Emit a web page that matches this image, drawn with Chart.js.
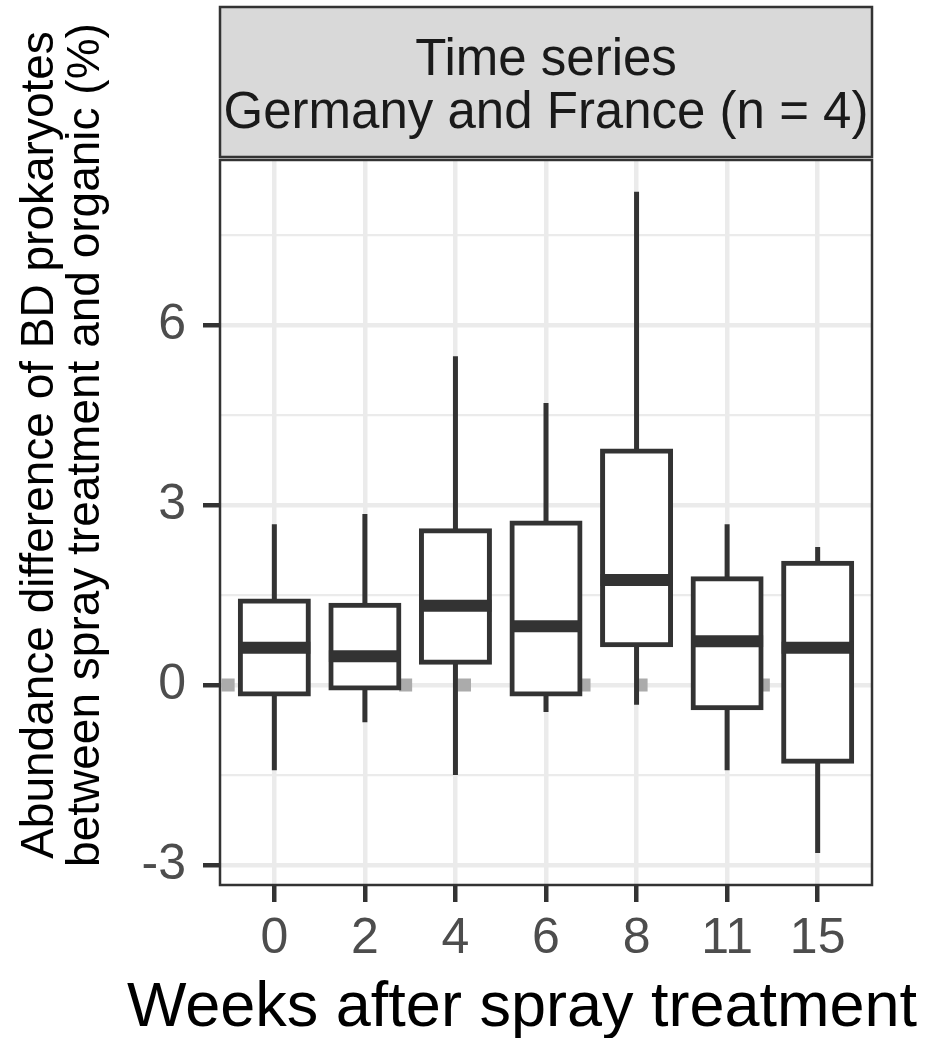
<!DOCTYPE html>
<html>
<head>
<meta charset="utf-8">
<script src="https://cdn.jsdelivr.net/npm/chart.js@4.4.1/dist/chart.umd.min.js"></script>
<style>
  html, body { margin: 0; padding: 0; background: #ffffff; }
  canvas { display: block; }
</style>
</head>
<body>
<canvas id="c" width="932" height="1038"></canvas>
<script>
// ---- data ----
const categories   = ['0', '2', '4', '6', '8', '11', '15'];
const whiskerLow   = [-1.42, -0.62, -1.50, -0.45, -0.33, -1.42, -2.80];
const q1           = [-0.15, -0.05,  0.38, -0.15,  0.67, -0.38, -1.27];
const medians      = [ 0.62,  0.48,  1.32,  0.98,  1.75,  0.73,  0.62];
const q3           = [ 1.40,  1.33,  2.57,  2.70,  3.90,  1.77,  2.03];
const whiskerHigh  = [ 2.68,  2.85,  5.48,  4.70,  8.22,  2.68,  2.30];
// grey points at zero (jittered positions, in category-index units)
const zeroPointX   = [-0.51, 1.45, 2.10, 3.42, 4.05, 5.40];
const zeroPointY   = [0, 0, 0, 0, 0, 0];
const yMajorTicks  = [-3, 0, 3, 6];
const yMinorTicks  = [-1.5, 1.5, 4.5, 7.5];
const stripLines   = ['Time series', 'Germany and France (n = 4)'];
const yTitleLines  = ['Abundance difference of BD prokaryotes', 'between spray treatment and organic (%)'];
const xTitleText   = 'Weeks after spray treatment';

const FONT = '"Liberation Sans", Arial, Helvetica, sans-serif';
const DARK = '#333333';
const GRID = '#ebebeb';
const PANEL_MAX = 8.75;   // top of the panel in data units
const AXIS_MIN = -3.333;
const STRIP_MAX = 11.333; // top of strip region (axis extent)
const X_TITLE_CENTER = 522;
const X_TITLE_BASELINE = 1026;

const idx = categories.map((_, i) => i);

const stripPlugin = {
  id: 'strip',
  beforeDraw(chart) {
    const c = chart.ctx;
    c.save();
    c.fillStyle = '#ffffff';
    c.fillRect(0, 0, chart.width, chart.height);
    c.restore();
  },
  beforeDatasetsDraw(chart) {
    const {ctx, chartArea} = chart;
    const ys = chart.scales.y;
    const panelTop = ys.getPixelForValue(PANEL_MAX);
    ctx.save();
    ctx.fillStyle = '#ffffff';
    ctx.fillRect(chartArea.left - 3, 0, chartArea.right - chartArea.left + 6, panelTop);
    const sTop = chartArea.top + 2, sBot = panelTop - 3;
    ctx.fillStyle = '#d9d9d9';
    ctx.fillRect(chartArea.left, sTop, chartArea.right - chartArea.left, sBot - sTop);
    ctx.lineWidth = 2.5;
    ctx.strokeStyle = DARK;
    ctx.strokeRect(chartArea.left, sTop, chartArea.right - chartArea.left, sBot - sTop);
    ctx.fillStyle = '#1a1a1a';
    ctx.font = '51px ' + FONT;
    ctx.textAlign = 'center';
    ctx.textBaseline = 'middle';
    const cx = (chartArea.left + chartArea.right) / 2;
    const mid = (sTop + sBot) / 2 + 5;
    const lh = 53;
    stripLines.forEach((t, i) => {
      ctx.fillText(t, cx, mid + (i - (stripLines.length - 1) / 2) * lh);
    });
    ctx.restore();
  },
  afterDatasetsDraw(chart) {
    const {ctx, chartArea} = chart;
    const ys = chart.scales.y;
    const panelTop = ys.getPixelForValue(PANEL_MAX);
    ctx.save();
    ctx.lineWidth = 2.5;
    ctx.strokeStyle = DARK;
    ctx.strokeRect(chartArea.left, panelTop, chartArea.right - chartArea.left, chartArea.bottom - panelTop);
    ctx.restore();
  },
  afterDraw(chart) {
    const ctx = chart.ctx;
    ctx.save();
    ctx.fillStyle = '#000000';
    ctx.font = '63px ' + FONT;
    ctx.textAlign = 'center';
    ctx.textBaseline = 'alphabetic';
    ctx.fillText(xTitleText, X_TITLE_CENTER, X_TITLE_BASELINE);
    ctx.restore();
  }
};

const yTicks = [...yMajorTicks, ...yMinorTicks].sort((a, b) => a - b);
const isMajor = v => yMajorTicks.some(m => Math.abs(m - v) < 1e-9);

new Chart(document.getElementById('c'), {
  type: 'bar',
  data: {
    datasets: [
      {
        type: 'line',
        label: 'median',
        order: 1,
        data: idx.map(i => ({x: i, y: medians[i]})),
        showLine: false,
        pointStyle: 'line',
        pointRadius: 36,
        pointHoverRadius: 36,
        pointBorderWidth: 12,
        pointBorderColor: DARK,
        pointBackgroundColor: DARK
      },
      {
        label: 'box',
        order: 2,
        grouped: false,
        data: idx.map(i => ({x: i, y: [q1[i], q3[i]]})),
        backgroundColor: '#ffffff',
        borderColor: DARK,
        borderWidth: 5,
        borderSkipped: false,
        inflateAmount: 2.5,
        barThickness: 68
      },
      {
        label: 'whisker',
        order: 3,
        grouped: false,
        data: idx.map(i => ({x: i, y: [whiskerLow[i], whiskerHigh[i]]})),
        backgroundColor: DARK,
        borderWidth: 0,
        inflateAmount: 0,
        barThickness: 5
      },
      {
        type: 'line',
        label: 'zero',
        order: 4,
        data: zeroPointX.map((x, i) => ({x: x, y: zeroPointY[i]})),
        showLine: false,
        pointStyle: 'rect',
        pointRadius: 9.2,
        pointHoverRadius: 9.2,
        pointBorderWidth: 0,
        pointBackgroundColor: '#ababab'
      }
    ]
  },
  options: {
    responsive: false,
    devicePixelRatio: 1,
    animation: false,
    events: [],
    layout: { autoPadding: false, padding: { top: 5, right: 60, left: 0, bottom: 0 } },
    plugins: { legend: { display: false }, tooltip: { enabled: false } },
    scales: {
      x: {
        type: 'linear',
        min: -0.6,
        max: 6.6,
        offset: false,
        afterBuildTicks: s => { s.ticks = idx.map(v => ({value: v})); },
        afterFit: s => { s.height = 153; s.paddingLeft = 0; s.paddingRight = 0; },
        border: { display: false },
        grid: {
          offset: false,
          color: GRID,
          lineWidth: 4.5,
          tickColor: DARK,
          tickWidth: 4.5,
          tickLength: 17
        },
        ticks: {
          autoSkip: false,
          maxRotation: 0,
          padding: 7,
          color: '#4d4d4d',
          font: { family: FONT, size: 50, lineHeight: 1.2 },
          callback: v => categories[v]
        },
        title: { display: false }
      },
      y: {
        type: 'linear',
        min: AXIS_MIN,
        max: STRIP_MAX,
        afterBuildTicks: s => { s.ticks = yTicks.map(v => ({value: v})); },
        afterFit: s => { s.width = 220; s.paddingTop = 0; s.paddingBottom = 0; },
        border: { display: false },
        grid: {
          color: GRID,
          lineWidth: ctx => (ctx.tick && isMajor(ctx.tick.value)) ? 4.5 : 2.3,
          tickColor: ctx => (ctx.tick && isMajor(ctx.tick.value)) ? DARK : 'rgba(0,0,0,0)',
          tickWidth: 4.5,
          tickLength: 17
        },
        ticks: {
          autoSkip: false,
          padding: 17,
          color: '#4d4d4d',
          font: { family: FONT, size: 50, lineHeight: 1.2 },
          callback: v => isMajor(v) ? String(v) : ''
        },
        title: {
          display: true,
          text: yTitleLines,
          color: '#000000',
          font: { family: FONT, size: 46, lineHeight: 1.0 },
          padding: { top: 17, bottom: 0 }
        }
      }
    }
  },
  plugins: [stripPlugin]
});
</script>
</body>
</html>
